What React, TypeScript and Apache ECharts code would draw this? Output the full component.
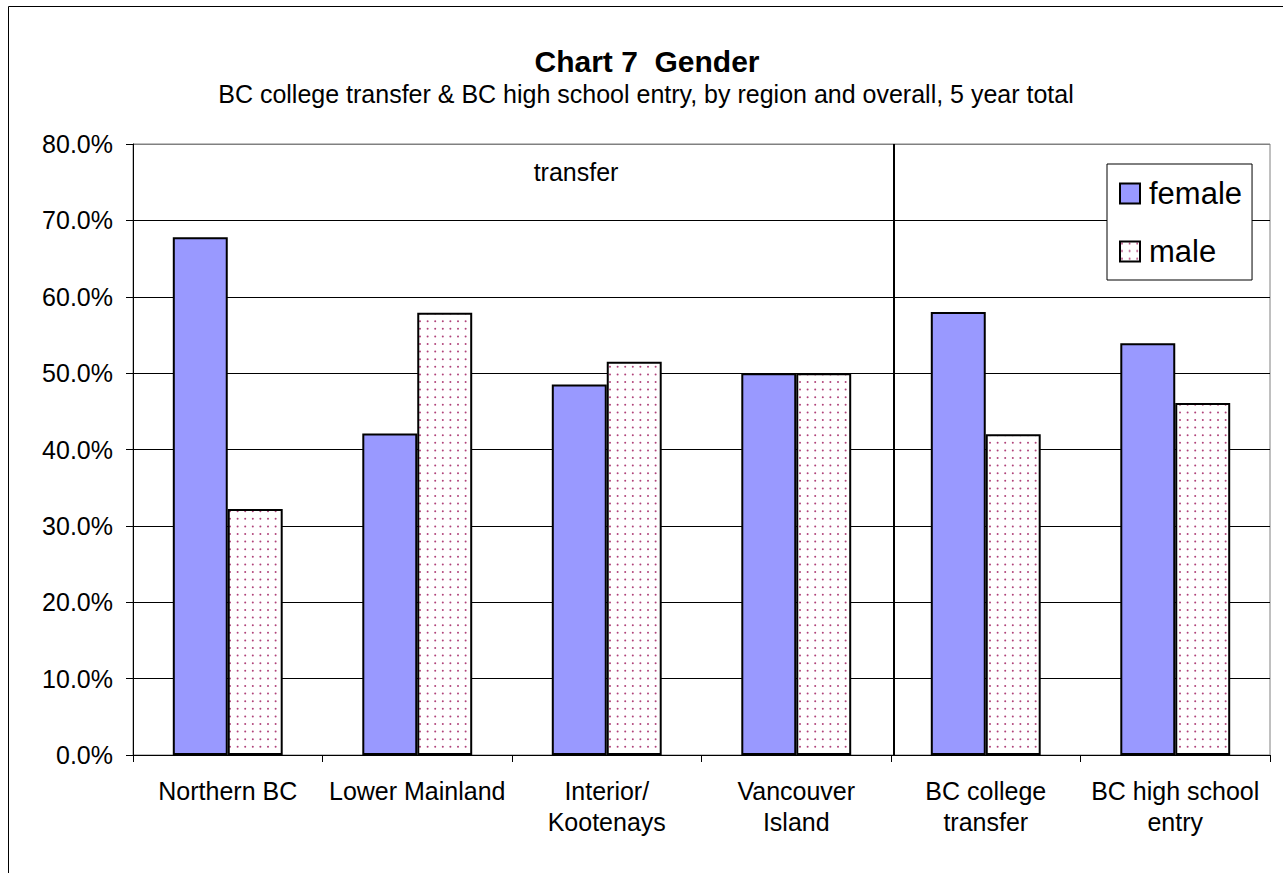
import React, { useEffect, useRef } from 'react';
import * as echarts from 'echarts';

const categories = [
  'Northern BC',
  'Lower Mainland',
  'Interior/\nKootenays',
  'Vancouver\nIsland',
  'BC college\ntransfer',
  'BC high school\nentry',
];
const femaleValues = [67.8, 42.1, 48.5, 50.0, 58.0, 53.9];
const maleValues = [32.2, 57.9, 51.5, 50.0, 42.0, 46.1];
const seriesNames = ['female', 'male'];
const titleText = 'Chart 7  Gender';
const subtitleText = 'BC college transfer & BC high school entry, by region and overall, 5 year total';
const groupLabel = 'transfer';
const yMin = 0;
const yMax = 80;
const yInterval = 10;

const FONT = "'Liberation Sans', Arial, Helvetica, sans-serif";

function makeDotPattern(): HTMLCanvasElement {
  const c = document.createElement('canvas');
  c.width = 38;
  c.height = 38;
  const ctx = c.getContext('2d')!;
  ctx.fillStyle = '#ffffff';
  ctx.fillRect(0, 0, 38, 38);
  ctx.fillStyle = '#b0437a';
  for (let i = 0; i < 5; i++) {
    for (let j = 0; j < 5; j++) {
      ctx.beginPath();
      ctx.arc(2 + i * 7.6, 2 + j * 7.6, 1.0, 0, Math.PI * 2);
      ctx.fill();
    }
  }
  return c;
}

export default function App() {
  const ref = useRef<HTMLDivElement>(null);
  useEffect(() => {
    if (!ref.current) return;
    const chart = echarts.init(ref.current, null, { renderer: 'svg' });
    const pattern = makeDotPattern();
    const splitColors = ['#000', '#000', '#000', '#000', '#000', '#000', '#000', '#000', '#808080'];
    chart.setOption({
      animation: false,
      backgroundColor: '#ffffff',
      textStyle: { fontFamily: FONT },
      grid: {
        left: 133,
        right: 13,
        top: 144,
        bottom: 118,
        show: true,
        borderColor: '#808080',
        borderWidth: 1,
        containLabel: false,
      },
      legend: {
        data: seriesNames,
        orient: 'vertical',
        left: 1107,
        top: 164,
        icon: 'rect',
        itemWidth: 20,
        itemHeight: 20,
        itemGap: 27,
        padding: [14, 10, 13, 12],
        borderColor: '#000',
        borderWidth: 1,
        backgroundColor: '#fff',
        textStyle: { fontSize: 31, color: '#000', fontFamily: FONT, padding: [0, 0, 0, 4] },
        itemStyle: { borderColor: '#000', borderWidth: 2 },
      },
      xAxis: {
        type: 'category',
        data: categories,
        axisLine: { show: true, lineStyle: { color: '#000', width: 1 } },
        axisTick: { show: true, length: 7, interval: 0, lineStyle: { color: '#000' } },
        axisLabel: {
          interval: 0,
          fontSize: 25,
          lineHeight: 31,
          color: '#000',
          margin: 20,
          fontFamily: FONT,
        },
        splitLine: { show: false },
      },
      yAxis: {
        type: 'value',
        min: yMin,
        max: yMax,
        interval: yInterval,
        axisLine: { show: true, lineStyle: { color: '#000', width: 1 } },
        axisTick: { show: true, length: 7, lineStyle: { color: '#000' } },
        axisLabel: {
          fontSize: 25,
          color: '#000',
          margin: 20,
          fontFamily: FONT,
          formatter: (v: number) => v.toFixed(1) + '%',
        },
        splitLine: { show: true, lineStyle: { color: splitColors, width: 1 } },
      },
      series: [
        {
          name: seriesNames[0],
          type: 'bar',
          data: femaleValues,
          barGap: '0%',
          barCategoryGap: '42%',
          itemStyle: { color: '#9999ff', borderColor: '#000', borderWidth: 2 },
        },
        {
          name: seriesNames[1],
          type: 'bar',
          data: maleValues,
          barGap: '0%',
          barCategoryGap: '42%',
          itemStyle: {
            color: { image: pattern, repeat: 'repeat' },
            borderColor: '#000',
            borderWidth: 2,
          },
        },
      ],
      graphic: [
        {
          type: 'rect',
          silent: true,
          z: 100,
          shape: { x: 8.5, y: 6.5, width: 1400, height: 1000 },
          style: { fill: 'none', stroke: '#000', lineWidth: 1 },
        },
        {
          type: 'line',
          silent: true,
          z: 100,
          shape: { x1: 894, y1: 144, x2: 894, y2: 755 },
          style: { stroke: '#000', lineWidth: 2 },
        },
        {
          type: 'text',
          x: 647,
          y: 61,
          style: {
            text: titleText,
            fill: '#000',
            font: `bold 30px ${FONT}`,
            textAlign: 'center',
            textVerticalAlign: 'middle',
          },
        },
        {
          type: 'text',
          x: 646,
          y: 94,
          style: {
            text: subtitleText,
            fill: '#000',
            font: `25px ${FONT}`,
            textAlign: 'center',
            textVerticalAlign: 'middle',
          },
        },
        {
          type: 'text',
          x: 576,
          y: 172,
          style: {
            text: groupLabel,
            fill: '#000',
            font: `25px ${FONT}`,
            textAlign: 'center',
            textVerticalAlign: 'middle',
          },
        },
      ],
    });
    return () => chart.dispose();
  }, []);
  return (
    <div
      ref={ref}
      style={{ position: 'absolute', left: 0, top: 0, width: 1283, height: 873 }}
    />
  );
}
